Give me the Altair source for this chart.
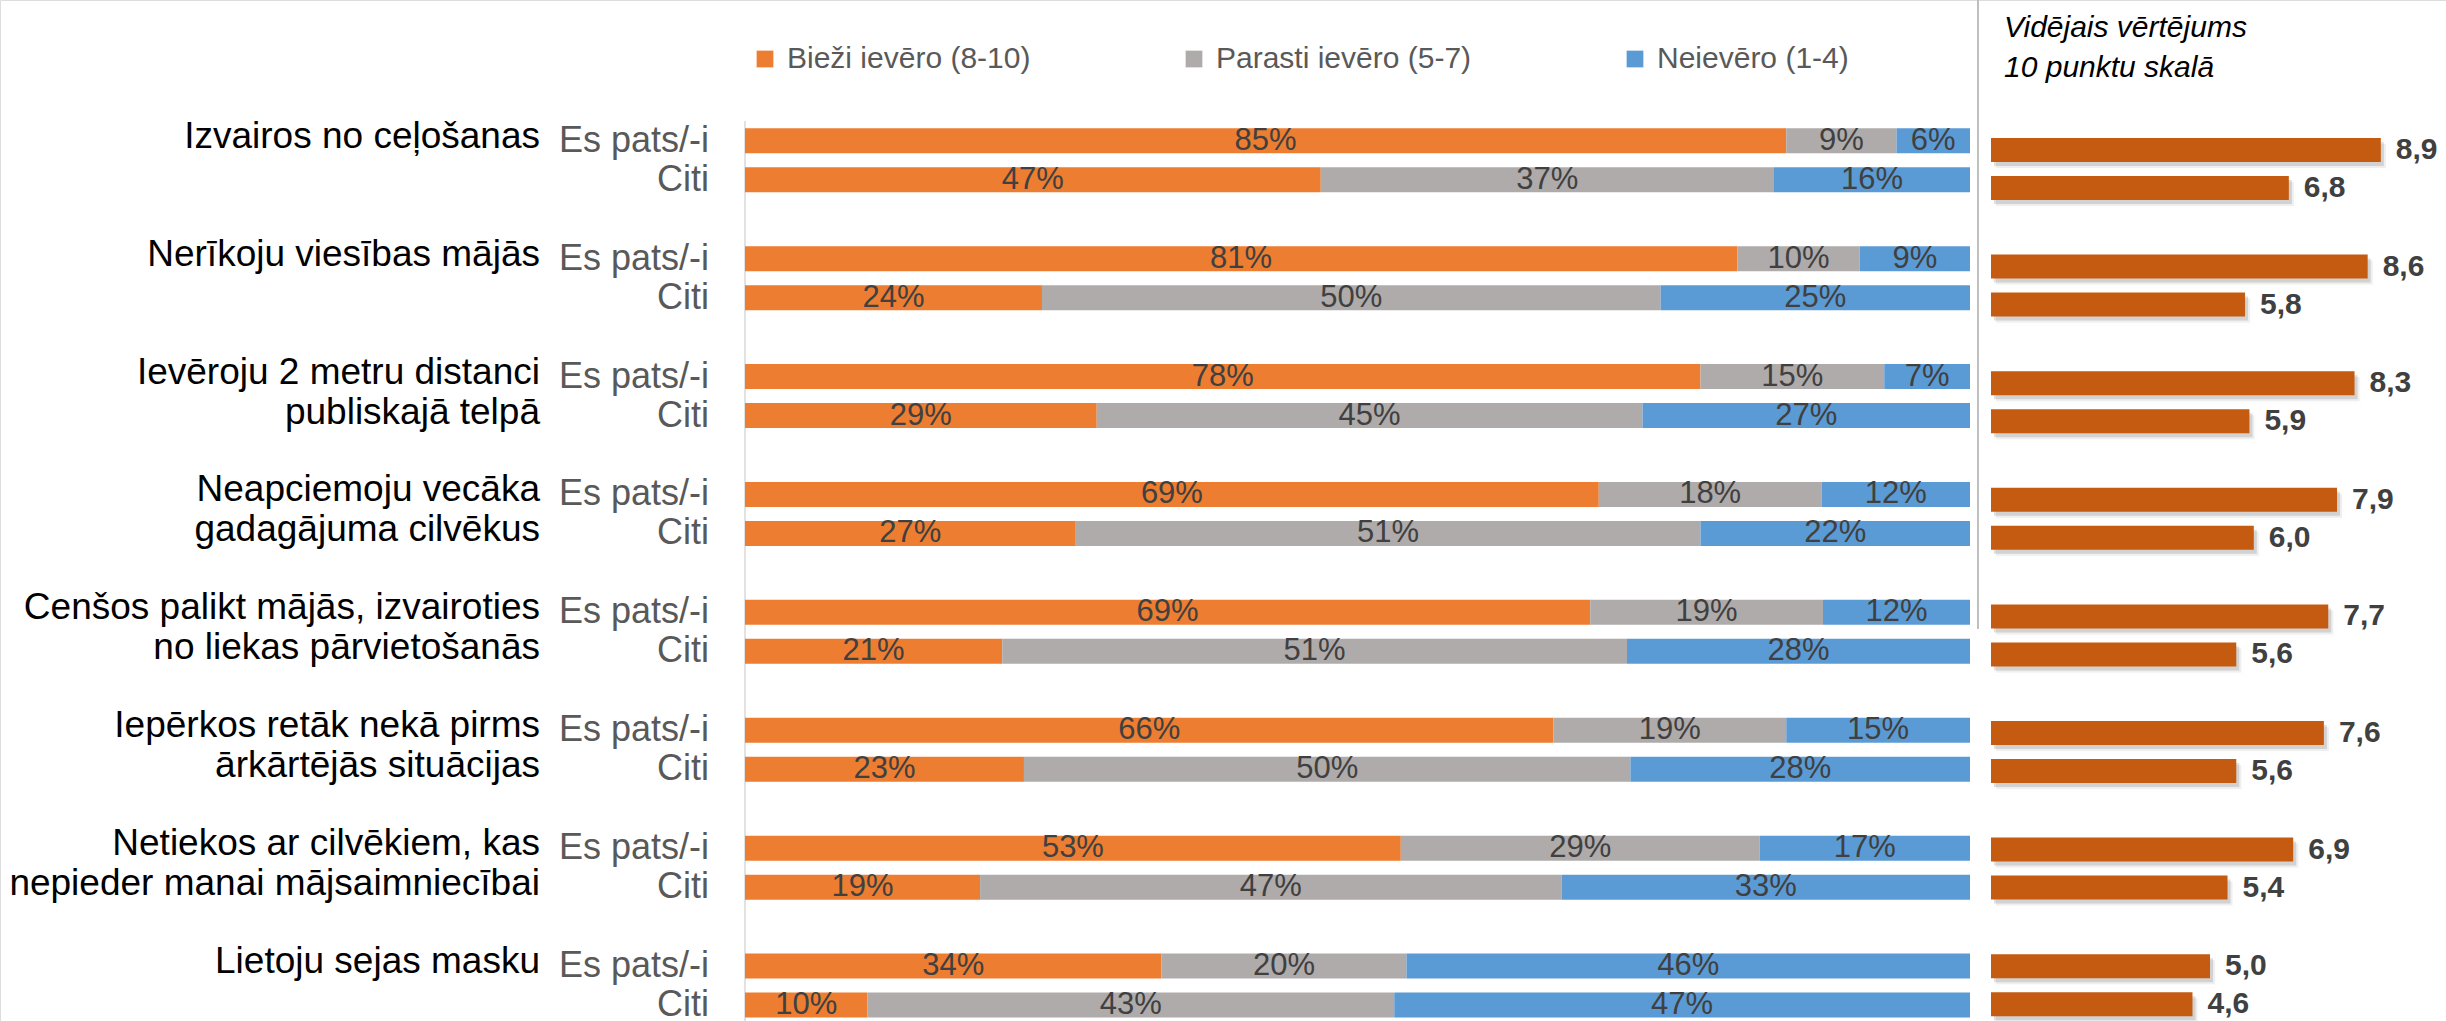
import altair as alt
import pandas as pd

FONT = "Liberation Sans"

# Behaviours asked about, in display order (line breaks as printed)
groups = [
    "Izvairos no ceļošanas",
    "Nerīkoju viesības mājās",
    "Ievēroju 2 metru distanci\npubliskajā telpā",
    "Neapciemoju vecāka\ngadagājuma cilvēkus",
    "Cenšos palikt mājās, izvairoties\nno liekas pārvietošanās",
    "Iepērkos retāk nekā pirms\nārkārtējās situācijas",
    "Netiekos ar cilvēkiem, kas\nnepieder manai mājsaimniecībai",
    "Lietoju sejas masku",
]
respondents = ["Es pats/-i", "Citi"]
levels = ["Bieži ievēro (8-10)", "Parasti ievēro (5-7)", "Neievēro (1-4)"]
level_colors = ["#ED7D31", "#AFABAB", "#5B9BD5"]

# Shares, %
often_self = [85, 81, 78, 69, 69, 66, 53, 34]
usual_self = [9, 10, 15, 18, 19, 19, 29, 20]
never_self = [6, 9, 7, 12, 12, 15, 17, 46]
often_others = [47, 24, 29, 27, 21, 23, 19, 10]
usual_others = [37, 50, 45, 51, 51, 50, 47, 43]
never_others = [16, 25, 27, 22, 28, 28, 33, 47]

# Average score on a 10 point scale
mean_self = [8.9, 8.6, 8.3, 7.9, 7.7, 7.6, 6.9, 5.0]
mean_others = [6.8, 5.8, 5.9, 6.0, 5.6, 5.6, 5.4, 4.6]

rows = []
for i, g in enumerate(groups):
    for resp, vals in (
        ("Es pats/-i", (often_self[i], usual_self[i], never_self[i])),
        ("Citi", (often_others[i], usual_others[i], never_others[i])),
    ):
        for k, (lvl, v) in enumerate(zip(levels, vals)):
            rows.append({"grupa": g, "resp": resp, "limenis": lvl, "ord": k, "v": v})
share_df = pd.DataFrame(rows)

mean_rows = []
for i, g in enumerate(groups):
    mean_rows.append({"grupa": g, "resp": "Es pats/-i", "vid": mean_self[i]})
    mean_rows.append({"grupa": g, "resp": "Citi", "vid": mean_others[i]})
mean_df = pd.DataFrame(mean_rows)
group_df = pd.DataFrame({"grupa": groups})

# ---- left panel: 100% stacked bars ----
xL = alt.Scale(domain=[0, 1], range=[745, 1970])
yL = alt.Scale(domain=groups, range=[101.3, 1044.5], paddingInner=0, paddingOuter=0)
yoL = alt.Scale(domain=respondents, paddingInner=0.359, paddingOuter=0.691)

stacked = (
    alt.Chart(share_df)
    .transform_joinaggregate(total="sum(v)", groupby=["grupa", "resp"])
    .transform_window(cum="sum(v)", sort=[alt.SortField("ord")], groupby=["grupa", "resp"])
    .transform_calculate(
        x0="(datum.cum - datum.v) / datum.total",
        x1="datum.cum / datum.total",
        xm="(datum.cum - datum.v / 2) / datum.total",
        lbl="datum.v + '%'",
    )
)

bars = stacked.mark_bar().encode(
    x=alt.X("x0:Q", scale=xL, axis=None),
    x2="x1:Q",
    y=alt.Y("grupa:N", scale=yL, axis=None),
    yOffset=alt.YOffset("resp:N", scale=yoL),
    color=alt.Color(
        "limenis:N",
        scale=alt.Scale(domain=levels, range=level_colors),
        legend=alt.Legend(
            title=None,
            orient="none",
            legendX=750,
            legendY=44,
            direction="horizontal",
            symbolType="square",
            symbolSize=280,
            symbolStrokeWidth=0,
            symbolOpacity=1,
            labelFont=FONT,
            labelFontSize=30,
            labelColor="#595959",
            labelOffset=7,
            labelLimit=0,
            columnPadding=148,
            gridAlign="each",
            padding=0,
        ),
    ),
)

pct_text = stacked.mark_text(font=FONT, fontSize=31, color="#404040", baseline="middle").encode(
    x=alt.X("xm:Q", scale=xL, axis=None),
    y=alt.Y("grupa:N", scale=yL, axis=None),
    yOffset=alt.YOffset("resp:N", scale=yoL),
    text="lbl:N",
)

resp_text = alt.Chart(mean_df).mark_text(
    font=FONT, fontSize=36, color="#595959", align="right", baseline="middle", dx=-36
).encode(
    x=alt.X(datum=0, scale=xL, axis=None),
    y=alt.Y("grupa:N", scale=yL, axis=None),
    yOffset=alt.YOffset("resp:N", scale=yoL),
    text="resp:N",
)

cat_text = alt.Chart(group_df).mark_text(
    font=FONT, fontSize=37, color="#000000", align="right", baseline="alphabetic",
    lineBreak="\n", lineHeight=40, dx=-205, dy=-12.5
).encode(
    x=alt.X(datum=0, scale=xL, axis=None),
    y=alt.Y("grupa:N", scale=yL, axis=None),
    text="grupa:N",
)

axis_line = alt.Chart(group_df.head(1)).mark_rule(color="#D9D9D9", strokeWidth=1.5).encode(
    x=alt.X(datum=0, scale=xL, axis=None),
    y=alt.value(121),
    y2=alt.value(1021),
)

left = alt.layer(axis_line, bars, pct_text, resp_text, cat_text)

# ---- right panel: mean scores ----
yoR = alt.Scale(domain=respondents, paddingInner=0.368, paddingOuter=0.718)


def mean_bars(x_range, y_range, **mark):
    return alt.Chart(mean_df).mark_bar(**mark).encode(
        x=alt.X("vid:Q", scale=alt.Scale(domain=[0, 10], range=x_range), axis=None),
        y=alt.Y("grupa:N", scale=alt.Scale(domain=groups, range=y_range,
                                           paddingInner=0, paddingOuter=0), axis=None),
        yOffset=alt.YOffset("resp:N", scale=yoR),
    )


# soft drop shadow under the score bars
shadow_wide = mean_bars([1996, 2434], [116.7, 1049.5], color="#000000", opacity=0.06,
                        stroke="#000000", strokeOpacity=0.05, strokeWidth=6)
shadow_core = mean_bars([1994, 2432], [114.7, 1047.5], color="#000000", opacity=0.12)

xR = alt.Scale(domain=[0, 10], range=[1991, 2429])
yR = alt.Scale(domain=groups, range=[110.7, 1043.5], paddingInner=0, paddingOuter=0)

right_bars = alt.Chart(mean_df).mark_bar(color="#C55A11").encode(
    x=alt.X("vid:Q", scale=xR, axis=None),
    y=alt.Y("grupa:N", scale=yR, axis=None),
    yOffset=alt.YOffset("resp:N", scale=yoR),
)
right_text = (
    alt.Chart(mean_df)
    .transform_calculate(lbl="replace(format(datum.vid, '.1f'), '.', ',')")
    .mark_text(font=FONT, fontSize=30, fontWeight="bold", color="#404040",
               align="left", baseline="middle", dx=15)
    .encode(
        x=alt.X("vid:Q", scale=xR, axis=None),
        y=alt.Y("grupa:N", scale=yR, axis=None),
        yOffset=alt.YOffset("resp:N", scale=yoR),
        text="lbl:N",
    )
)
right = alt.layer(right_bars, right_text)

divider = alt.Chart(group_df.head(1)).mark_rule(color="#BFBFBF", strokeWidth=2).encode(
    x=alt.value(1978), y=alt.value(0), y2=alt.value(629)
)

right_title = alt.Chart(pd.DataFrame({"t": ["Vidējais vērtējums\n10 punktu skalā"]})).mark_text(
    font=FONT, fontSize=30, fontStyle="italic", color="#000000", align="left",
    baseline="alphabetic", lineBreak="\n", lineHeight=40
).encode(x=alt.value(2004), y=alt.value(37), text="t:N")

chart = (
    alt.layer(left, alt.layer(shadow_wide), alt.layer(shadow_core), right, divider, right_title)
    .resolve_scale(x="independent", y="independent", yOffset="independent")
    .properties(width=2446, height=1021, autosize=alt.AutoSizeParams(type="none"), padding=0)
    .configure_view(strokeWidth=0)
    .configure(background="#FFFFFF")
)

chart.save("out.html", embed_options={"renderer": "svg", "actions": False})
